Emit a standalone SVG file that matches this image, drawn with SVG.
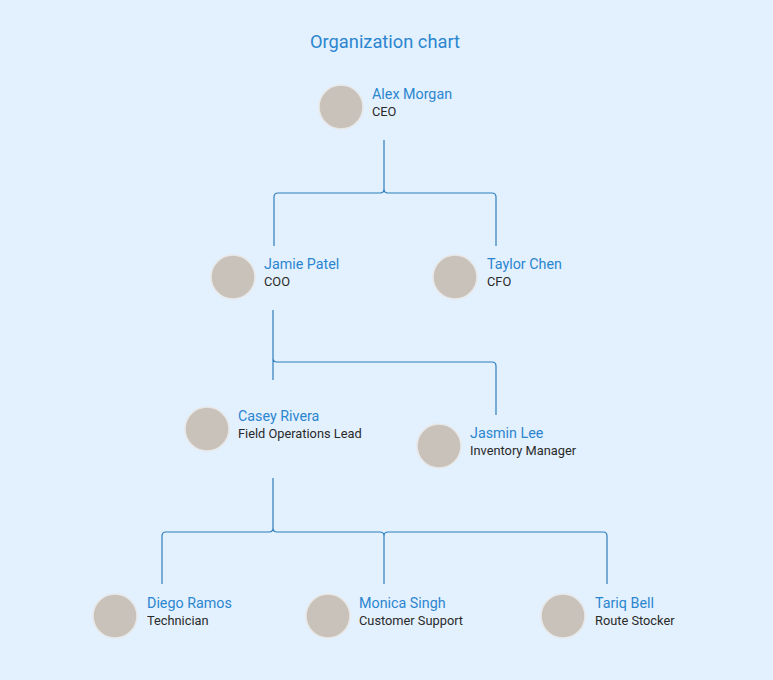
<svg xmlns="http://www.w3.org/2000/svg" width="773" height="680" viewBox="0 0 773 680">
<style>
.n{font-family:Roboto,"Liberation Sans",sans-serif;font-size:14.3px;fill:#2b86d0}
.t{font-family:Roboto,"Liberation Sans",sans-serif;font-size:12.8px;fill:#2a2a2a}
.av{fill:#c9c2bb;stroke:#e8e8e8;stroke-width:1.5}
.c{fill:none;stroke:#2f7fbf;stroke-width:1.2}
</style>
<rect width="773" height="680" fill="#e3f0fd"/>
<text x="385" y="48" text-anchor="middle" font-family="Roboto,'Liberation Sans',sans-serif" font-size="18.3" fill="#2b86d0">Organization chart</text>
<g id="connectors">
<path class="c" d="M384 140V189q0 4 -4 4H278q-4 0 -4 4V246M384 189q0 4 4 4H492q4 0 4 4V246"/>
<path class="c" d="M273 310V380M273 358q0 4 4 4H492q4 0 4 4V415"/>
<path class="c" d="M273 478V528q0 4 -4 4H166q-4 0 -4 4V584M273 528q0 4 4 4H380q4 0 4 4V584M384 536q0 -4 4 -4H603q4 0 4 4V584"/>
</g>
<g id="alex"><circle class="av" cx="341" cy="107" r="22"/><text class="n" x="372" y="99">Alex Morgan</text><text class="t" x="372" y="116">CEO</text></g>
<g id="jamie"><circle class="av" cx="233" cy="277" r="22"/><text class="n" x="264" y="269">Jamie Patel</text><text class="t" x="264" y="286">COO</text></g>
<g id="taylor"><circle class="av" cx="455" cy="277" r="22"/><text class="n" x="487" y="269">Taylor Chen</text><text class="t" x="487" y="286">CFO</text></g>
<g id="casey"><circle class="av" cx="207" cy="429" r="22"/><text class="n" x="238" y="421">Casey Rivera</text><text class="t" x="238" y="438">Field Operations Lead</text></g>
<g id="jasmin"><circle class="av" cx="439" cy="446" r="22"/><text class="n" x="470" y="438">Jasmin Lee</text><text class="t" x="470" y="455">Inventory Manager</text></g>
<g id="diego"><circle class="av" cx="115" cy="616" r="22"/><text class="n" x="147" y="608">Diego Ramos</text><text class="t" x="147" y="625">Technician</text></g>
<g id="monica"><circle class="av" cx="328" cy="616" r="22"/><text class="n" x="359" y="608">Monica Singh</text><text class="t" x="359" y="625">Customer Support</text></g>
<g id="tariq"><circle class="av" cx="563" cy="616" r="22"/><text class="n" x="595" y="608">Tariq Bell</text><text class="t" x="595" y="625">Route Stocker</text></g>
</svg>
